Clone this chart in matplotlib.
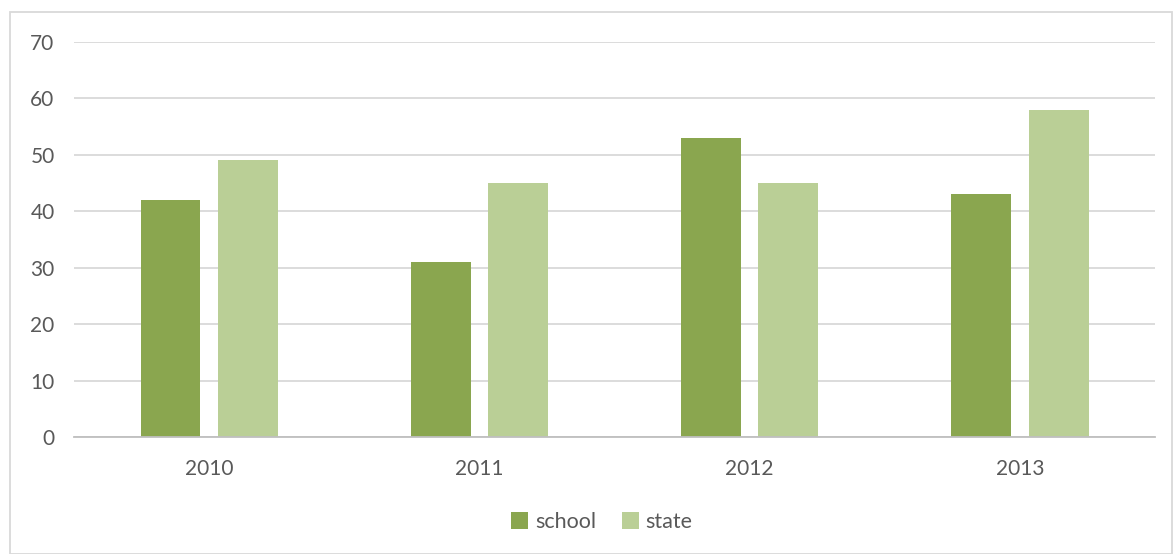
import matplotlib
matplotlib.use("Agg")
import matplotlib.pyplot as plt
import numpy as np
from matplotlib.patches import Rectangle

years = ["2010", "2011", "2012", "2013"]
school = [42, 31, 53, 43]
state = [49, 45, 45, 58]
yticks = [0, 10, 20, 30, 40, 50, 60, 70]

plt.rcParams['font.family'] = ['Lato', 'DejaVu Sans']

fig = plt.figure(figsize=(11.73, 5.54), dpi=100)
ax = fig.add_axes([0.0631, 0.2112, 0.9216, 0.7130])

x = np.arange(len(years))
w = 0.222
c_school = "#8aa64f"
c_state = "#bacf96"
ax.bar(x - 0.143, school, w, color=c_school, label="school", zorder=3)
ax.bar(x + 0.143, state, w, color=c_state, label="state", zorder=3)

ax.set_xlim(-0.5, len(years) - 0.5)
ax.set_ylim(0, 70)
ax.set_yticks(yticks)
ax.set_xticks(x)
ax.set_xticklabels(years)
ax.grid(axis="y", color="#d9d9d9", linewidth=1.3, zorder=0)
for s in ["top", "right", "left"]:
    ax.spines[s].set_visible(False)
ax.spines["bottom"].set_color("#bfbfbf")
ax.spines["bottom"].set_linewidth(1.3)
ax.spines["bottom"].set_zorder(4)
ax.tick_params(axis="both", length=0, labelsize=15, colors="#595959")
ax.tick_params(axis="y", pad=14)
ax.tick_params(axis="x", pad=16)

leg = fig.legend(loc="center", bbox_to_anchor=(0.513, 0.058), ncol=2, frameon=False,
                 fontsize=15.5, handlelength=0.8, handleheight=0.8, handletextpad=0.3,
                 columnspacing=1.2)
for t in leg.get_texts():
    t.set_color("#595959")

fig.patches.append(Rectangle((10/1173, 0), 1 - 10/1173 - 1/1173, 1 - 12/554,
                             transform=fig.transFigure, fill=False,
                             edgecolor="#d9d9d9", linewidth=1.3))

fig.savefig("out.png", dpi=100, facecolor="white")
